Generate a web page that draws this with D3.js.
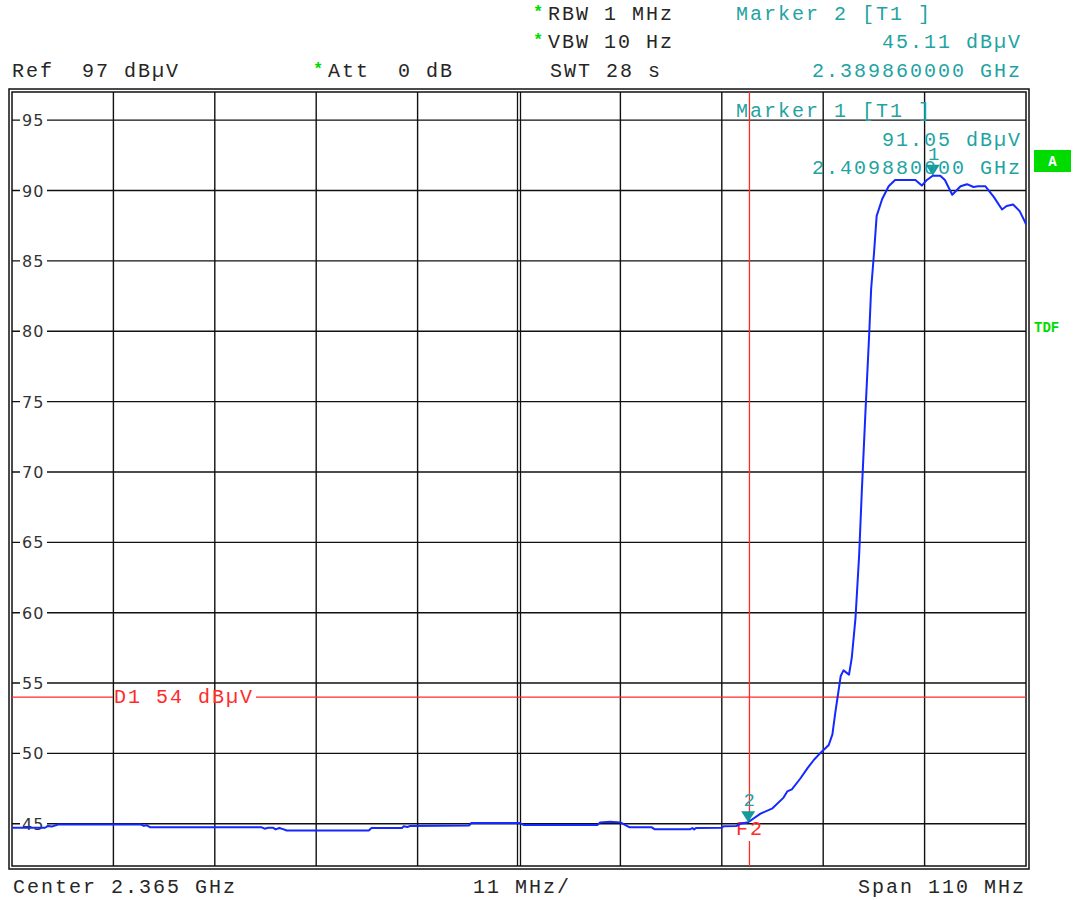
<!DOCTYPE html>
<html>
<head>
<meta charset="utf-8">
<script src="https://cdn.jsdelivr.net/npm/d3@7"></script>
<style>
  html, body { margin: 0; padding: 0; background: #fff; }
  svg { display: block; }
  svg text { white-space: pre; }
</style>
</head>
<body>
<div id="chart"></div>
<script>
// trace values (MHz, dBµV)
const freqMHz = [
  2310.0, 2313.6, 2313.9, 2314.3, 2315.0, 2324.0, 2324.3, 2324.6, 2325.0, 2337.1,
  2337.4, 2337.8, 2338.3, 2338.6, 2339.0, 2339.4, 2339.8, 2348.7, 2349.0, 2352.3,
  2352.5, 2352.9, 2353.2, 2359.6, 2359.8, 2365.1, 2365.5, 2373.5, 2373.8, 2374.9,
  2376.0, 2377.0, 2379.4, 2379.7, 2383.6, 2383.8, 2384.0, 2384.2, 2387.0, 2387.2,
  2388.6, 2389.0, 2389.86, 2391.2, 2392.5, 2393.7, 2394.1, 2394.6, 2395.5, 2396.3,
  2397.0, 2397.5, 2398.6, 2399.0, 2399.3, 2399.9, 2400.2, 2400.8, 2401.1, 2401.5,
  2401.9, 2402.2, 2402.6, 2403.0, 2403.2, 2403.5, 2403.8, 2404.4, 2405.1, 2405.8,
  2408.0, 2408.7, 2409.25, 2409.88, 2410.7, 2411.2, 2412.0, 2412.9, 2413.6, 2414.3,
  2414.8, 2415.6, 2416.5, 2417.4, 2417.9, 2418.6, 2419.3, 2419.9, 2420.0
];
const levelDb = [
  44.72, 44.72, 44.85, 44.8, 44.95, 44.95, 44.85, 44.9, 44.75, 44.75,
  44.65, 44.72, 44.72, 44.6, 44.7, 44.62, 44.52, 44.52, 44.7, 44.7,
  44.82, 44.77, 44.85, 44.88, 45.05, 45.05, 44.92, 44.92, 45.1, 45.15,
  45.1, 44.75, 44.75, 44.62, 44.62, 44.7, 44.6, 44.7, 44.72, 44.82,
  44.85, 45.0, 45.11, 45.72, 46.1, 46.86, 47.3, 47.45, 48.2, 48.95,
  49.55, 49.9, 50.6, 51.35, 52.84, 55.5, 55.9, 55.6, 56.8, 59.6,
  64.1, 68.8, 74.5, 79.95, 83.0, 85.45, 88.2, 89.4, 90.3, 90.75,
  90.75, 90.35, 90.75, 91.05, 91.05, 90.75, 89.7, 90.3, 90.45, 90.25,
  90.3, 90.3, 89.55, 88.65, 88.9, 89.0, 88.55, 87.75, 87.6
];

const yTicks = [95, 90, 85, 80, 75, 70, 65, 60, 55, 50, 45];
const xGridMHz = [2321, 2332, 2343, 2354, 2376, 2387, 2398, 2409];
const xCenterMHz = 2365;
const xDomain = [2310, 2420];
const yDomain = [42, 97];

const markers = [
  { id: "1", f: 2409.88, level: 91.05 },
  { id: "2", f: 2389.86, level: 45.11 }
];
const displayLine = { name: "D1", level: 54 };
const freqLine = { name: "F2", f: 2390 };

const W = 1073, H = 900;
const oPlot = { left: 12, right: 1026, top: 92, bottom: 866 };
const sMono = "'Liberation Mono', 'Courier New', monospace";
const cText = "#262626", cTeal = "#1fa3a3", cGreen = "#00dc00", cRed = "#ff2a2a", cTrace = "#1428ff";
const iChar = 14; // advance per character in header text

const svg = d3.select("#chart").append("svg")
  .attr("width", W).attr("height", H)
  .style("background", "#fff");

const x = d3.scaleLinear().domain(xDomain).range([oPlot.left, oPlot.right]);
const y = d3.scaleLinear().domain(yDomain).range([oPlot.bottom, oPlot.top]);

// mono text helper, right aligned by character count when bEnd
function monoText(g, xPos, yPos, sText, sColor, bEnd) {
  const xStart = bEnd ? xPos - sText.length * iChar + 2 : xPos;
  return g.append("text")
    .attr("x", xStart).attr("y", yPos)
    .attr("font-family", sMono).attr("font-size", 20)
    .attr("letter-spacing", 2)
    .attr("xml:space", "preserve")
    .attr("fill", sColor)
    .text(sText);
}
function star(g, xPos, yPos) {
  g.append("text")
    .attr("x", xPos).attr("y", yPos - 3)
    .attr("font-family", sMono).attr("font-size", 17)
    .attr("font-weight", "bold")
    .attr("fill", cGreen).text("*");
}

// frame (double border)
svg.append("rect")
  .attr("x", oPlot.left - 3).attr("y", oPlot.top - 3)
  .attr("width", oPlot.right - oPlot.left + 6).attr("height", oPlot.bottom - oPlot.top + 6)
  .attr("fill", "none").attr("stroke", "#111").attr("stroke-width", 1.5);
svg.append("rect")
  .attr("x", oPlot.left).attr("y", oPlot.top)
  .attr("width", oPlot.right - oPlot.left).attr("height", oPlot.bottom - oPlot.top)
  .attr("fill", "#fff").attr("stroke", "#111").attr("stroke-width", 1.5);

// grid
const gGrid = svg.append("g");
gGrid.selectAll("line.v").data(xGridMHz).enter().append("line")
  .attr("x1", d => x(d)).attr("x2", d => x(d))
  .attr("y1", oPlot.top).attr("y2", oPlot.bottom)
  .attr("stroke", "#111").attr("stroke-width", 1.4);
[-1.5, 1.5].forEach(dx => {
  gGrid.append("line")
    .attr("x1", x(xCenterMHz) + dx).attr("x2", x(xCenterMHz) + dx)
    .attr("y1", oPlot.top).attr("y2", oPlot.bottom)
    .attr("stroke", "#111").attr("stroke-width", 1.3);
});
gGrid.selectAll("line.h").data(yTicks).enter().append("line")
  .attr("x1", oPlot.left).attr("x2", oPlot.right)
  .attr("y1", d => y(d)).attr("y2", d => y(d))
  .attr("stroke", "#111").attr("stroke-width", 1.4);

// y labels with white patch over the grid line
const gLab = svg.append("g");
gLab.selectAll("rect").data(yTicks).enter().append("rect")
  .attr("x", 20).attr("y", d => y(d) - 9)
  .attr("width", 27).attr("height", 18)
  .attr("fill", "#fff");
gLab.selectAll("text").data(yTicks).enter().append("text")
  .attr("x", 22).attr("y", d => y(d) + 6)
  .attr("font-family", "'DejaVu Sans', sans-serif").attr("font-size", 16)
  .attr("letter-spacing", 1)
  .attr("fill", "#333")
  .text(d => d);

// display line D1
const yD1 = y(displayLine.level);
const sD1 = displayLine.name + " " + displayLine.level + " dBµV";
svg.append("line").attr("x1", oPlot.left).attr("x2", 113)
  .attr("y1", yD1).attr("y2", yD1).attr("stroke", cRed).attr("stroke-width", 1.3);
svg.append("line").attr("x1", 114 + sD1.length * iChar + 2).attr("x2", oPlot.right)
  .attr("y1", yD1).attr("y2", yD1).attr("stroke", cRed).attr("stroke-width", 1.3);
monoText(svg, 114, yD1 + 6, sD1, cRed);

// frequency line F2
const xF2 = x(freqLine.f);
svg.append("line").attr("x1", xF2).attr("x2", xF2)
  .attr("y1", oPlot.top).attr("y2", 820).attr("stroke", cRed).attr("stroke-width", 1.3);
svg.append("line").attr("x1", xF2).attr("x2", xF2)
  .attr("y1", 841).attr("y2", oPlot.bottom).attr("stroke", cRed).attr("stroke-width", 1.3);
monoText(svg, 736, 835, freqLine.name, cRed);

// trace
const line = d3.line().x(d => x(d[0])).y(d => y(d[1]));
svg.append("path")
  .datum(freqMHz.map((f, i) => [f, levelDb[i]]))
  .attr("d", line)
  .attr("fill", "none").attr("stroke", cTrace)
  .attr("stroke-width", 2).attr("stroke-linejoin", "round");

// markers
const gMark = svg.append("g");
markers.forEach(m => {
  const mx = x(m.f), my = y(m.level);
  gMark.append("path")
    .attr("d", `M${mx - 7},${my - 11}L${mx + 7},${my - 11}L${mx},${my}Z`)
    .attr("fill", "#129a9a");
  gMark.append("text")
    .attr("x", mx + 1).attr("y", my - 16)
    .attr("text-anchor", "middle")
    .attr("font-family", sMono).attr("font-size", 19)
    .attr("fill", cTeal).text(m.id);
});

// header
star(svg, 533, 20); monoText(svg, 548, 20, "RBW 1 MHz", cText);
star(svg, 533, 48); monoText(svg, 548, 48, "VBW 10 Hz", cText);
monoText(svg, 12, 77, "Ref  97 dBµV", cText);
star(svg, 313, 77); monoText(svg, 328, 77, "Att  0 dB", cText);
monoText(svg, 550, 77, "SWT 28 s", cText);

monoText(svg, 736, 20, "Marker 2 [T1 ]", cTeal);
monoText(svg, 1020, 48, "45.11 dBµV", cTeal, true);
monoText(svg, 1020, 77, "2.389860000 GHz", cTeal, true);

monoText(svg, 736, 117, "Marker 1 [T1 ]", cTeal);
monoText(svg, 1020, 146, "91.05 dBµV", cTeal, true);
monoText(svg, 1020, 174, "2.409880000 GHz", cTeal, true);

// footer
monoText(svg, 13, 893, "Center 2.365 GHz", cText);
monoText(svg, 473, 893, "11 MHz/", cText);
monoText(svg, 1024, 893, "Span 110 MHz", cText, true);

// side labels
svg.append("rect").attr("x", 1034).attr("y", 150).attr("width", 37).attr("height", 22)
  .attr("fill", cGreen);
svg.append("text").attr("x", 1052.5).attr("y", 166).attr("text-anchor", "middle")
  .attr("font-family", sMono).attr("font-size", 14).attr("font-weight", "bold")
  .attr("fill", "#fff").text("A");
svg.append("text").attr("x", 1034).attr("y", 332)
  .attr("font-family", sMono).attr("font-size", 14).attr("font-weight", "bold")
  .attr("fill", cGreen).text("TDF");
</script>
</body>
</html>
